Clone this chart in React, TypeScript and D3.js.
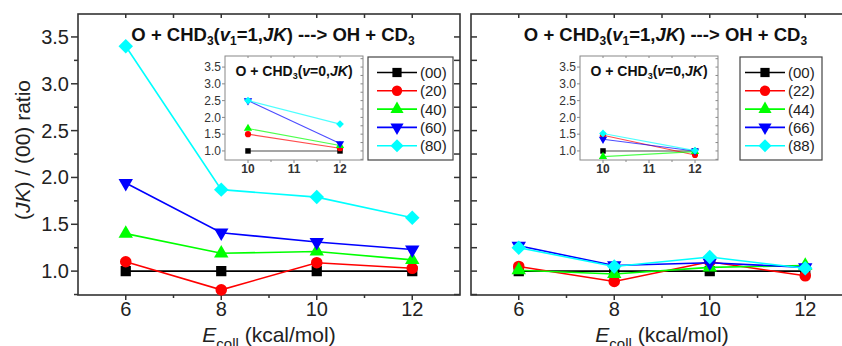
import React, { useEffect, useRef } from 'react';
import * as d3 from 'd3';

const W = 842;
const H = 346;
const FONT = '"Liberation Sans", Arial, Helvetica, sans-serif';

// collision energies (kcal/mol)
const energies = [6, 8, 10, 12];
const insetEnergies = [10, 12];

const colors = ['#000000', '#ff0000', '#00ff00', '#0000ff', '#00ffff'];
const shapes = ['square', 'circle', 'triangle', 'triangleDown', 'diamond'];

const leftLabels = ['(00)', '(20)', '(40)', '(60)', '(80)'];
const rightLabels = ['(00)', '(22)', '(44)', '(66)', '(88)'];

// left panel, v1=1
const left00 = [1.0, 1.0, 1.0, 1.0];
const left20 = [1.1, 0.8, 1.09, 1.03];
const left40 = [1.4, 1.19, 1.21, 1.12];
const left60 = [1.94, 1.41, 1.31, 1.23];
const left80 = [3.4, 1.87, 1.79, 1.57];

// right panel, v1=1
const right00 = [1.0, 1.0, 1.0, 1.0];
const right22 = [1.05, 0.89, 1.1, 0.95];
const right44 = [1.01, 0.97, 1.04, 1.06];
const right66 = [1.27, 1.06, 1.09, 1.04];
const right88 = [1.25, 1.05, 1.15, 1.03];

// insets, v=0
const insetLeft00 = [1.0, 1.0];
const insetLeft20 = [1.5, 1.08];
const insetLeft40 = [1.67, 1.16];
const insetLeft60 = [2.5, 1.22];
const insetLeft80 = [2.5, 1.8];

const insetRight00 = [1.0, 1.0];
const insetRight22 = [1.47, 0.88];
const insetRight44 = [0.83, 0.98];
const insetRight66 = [1.35, 1.0];
const insetRight88 = [1.52, 1.01];

const yTicks = [1.0, 1.5, 2.0, 2.5, 3.0, 3.5];
const xTicks = [6, 8, 10, 12];
const insetYTicks = [1.0, 1.5, 2.0, 2.5, 3.0, 3.5];
const insetXTicks = [10, 11, 12];

type Seg = { t: string; it?: boolean; sub?: boolean };

const titleMain: Seg[] = [
  { t: 'O + CHD' }, { t: '3', sub: true }, { t: '(' }, { t: 'v', it: true }, { t: '1', sub: true },
  { t: '=1,' }, { t: 'JK', it: true }, { t: ') ---> OH + CD' }, { t: '3', sub: true },
];
const titleInset: Seg[] = [
  { t: 'O + CHD' }, { t: '3', sub: true }, { t: '(' }, { t: 'v', it: true }, { t: '=0,' },
  { t: 'JK', it: true }, { t: ')' },
];

function rich(text: any, segs: Seg[], subSize: number, subDy: number) {
  let down = false;
  segs.forEach((s) => {
    const ts = text.append('tspan').text(s.t);
    if (s.it) ts.attr('font-style', 'italic');
    if (s.sub && !down) { ts.attr('dy', subDy).attr('font-size', subSize); down = true; }
    else if (s.sub) ts.attr('font-size', subSize);
    else if (down) { ts.attr('dy', -subDy); down = false; }
  });
}

function marker(g: any, shape: string, area: number, cx: number, cy: number, color: string) {
  const type = shape === 'circle' ? d3.symbolCircle
    : shape === 'triangle' || shape === 'triangleDown' ? d3.symbolTriangle : d3.symbolSquare;
  const rot = shape === 'triangleDown' ? 180 : shape === 'diamond' ? 45 : 0;
  g.append('path')
    .attr('d', d3.symbol().type(type).size(area)())
    .attr('transform', `translate(${cx},${cy}) rotate(${rot})`)
    .attr('fill', color);
}

function ticks(g: any, vals: number[], pos: (v: number) => number, fixed: number, len: number, vertical: boolean, color: string, w: number) {
  g.selectAll(null).data(vals).enter().append('line')
    .attr('x1', (d: number) => (vertical ? pos(d) : fixed))
    .attr('x2', (d: number) => (vertical ? pos(d) : fixed + len))
    .attr('y1', (d: number) => (vertical ? fixed : pos(d)))
    .attr('y2', (d: number) => (vertical ? fixed + len : pos(d)))
    .attr('stroke', color).attr('stroke-width', w);
}

function drawPanel(svg: any, o: any) {
  const x = d3.scaleLinear().domain([5, 13]).range([o.x0, o.x0 + 382]);
  const y = d3.scaleLinear().domain([0.745, 3.745]).range([295, 14]);
  const g = svg.append('g');
  const frame = '#333';
  const [bot, top] = y.range();
  const [lft, rgt] = x.range();

  // ticks
  const minorX = d3.range(6, 13, 1).filter((v) => !xTicks.includes(v));
  ticks(g, xTicks, x, bot, 5, true, frame, 1.5);
  ticks(g, minorX, x, bot, 3, true, frame, 1.5);
  ticks(g, d3.range(6, 13, 1), x, top, 4, true, frame, 1.5);
  const quarter = d3.range(0.75, 3.75, 0.25);
  if (o.yLabels) {
    ticks(g, yTicks, y, lft, -7, false, frame, 1.5);
    ticks(g, quarter.filter((v) => !yTicks.includes(v)), y, lft, -4, false, frame, 1.5);
    ticks(g, quarter, y, rgt, -6, false, frame, 1.5);
    g.selectAll(null).data(yTicks).enter().append('text')
      .attr('x', lft - 9).attr('y', (d: number) => y(d)).attr('dy', '0.35em')
      .attr('text-anchor', 'end').attr('font-size', 20).attr('fill', '#222')
      .text((d: number) => d3.format('.1f')(d));
  } else {
    ticks(g, quarter, y, lft, 6, false, frame, 1.5);
  }
  g.append('rect').attr('x', lft).attr('y', top).attr('width', rgt - lft).attr('height', bot - top)
    .attr('fill', 'none').attr('stroke', frame).attr('stroke-width', 1.6);

  g.selectAll(null).data(xTicks).enter().append('text')
    .attr('x', (d: number) => x(d)).attr('y', 315.5).attr('text-anchor', 'middle')
    .attr('font-size', 20).attr('fill', '#222').text((d: number) => d);

  // x label
  const xl = g.append('text').attr('x', (lft + rgt) / 2).attr('y', 342).attr('text-anchor', 'middle')
    .attr('font-size', 21).attr('fill', '#222');
  rich(xl, [{ t: 'E', it: true }, { t: 'coll', sub: true }, { t: ' (kcal/mol)' }], 15, 7);

  // title
  const tt = g.append('text').attr('x', (lft + Math.min(rgt, 852)) / 2 + 4).attr('y', 41)
    .attr('text-anchor', 'middle').attr('font-size', 18.5).attr('font-weight', 'bold').attr('fill', '#111');
  rich(tt, titleMain, 12, 4);

  // series
  const line = d3.line<number>().x((_, i) => x(energies[i])).y((d) => y(d));
  o.series.forEach((vals: number[], i: number) => {
    g.append('path').attr('d', line(vals)).attr('fill', 'none').attr('stroke', colors[i]).attr('stroke-width', 1.6);
    vals.forEach((v, j) => marker(g, shapes[i], shapes[i] === 'triangle' || shapes[i] === 'triangleDown' ? 90 : 105, x(energies[j]), y(v), colors[i]));
  });

  // inset
  const ix = d3.scaleLinear().domain([9.5, 12.5]).range([o.ix0, o.ix0 + 138]);
  const iy = d3.scaleLinear().domain([0.73, 3.83]).range([160, 56]);
  const ig = g.append('g');
  const ic = '#888';
  const [ib, itop] = iy.range();
  const [il, ir] = ix.range();
  ig.append('rect').attr('x', il).attr('y', itop).attr('width', ir - il).attr('height', ib - itop)
    .attr('fill', '#fff').attr('stroke', ic).attr('stroke-width', 1);
  ticks(ig, insetXTicks, ix, ib, 3, true, ic, 1);
  ticks(ig, [10.5, 11.5], ix, ib, 2, true, ic, 1);
  ticks(ig, [10, 10.5, 11, 11.5, 12], ix, itop, 2, true, ic, 1);
  ticks(ig, insetYTicks, iy, il, -3, false, ic, 1);
  ticks(ig, d3.range(0.75, 3.8, 0.25), iy, ir, -2.5, false, ic, 1);
  ig.selectAll(null).data(insetYTicks).enter().append('text')
    .attr('x', il - 4).attr('y', (d: number) => iy(d)).attr('dy', '0.35em').attr('text-anchor', 'end')
    .attr('font-size', 12).attr('fill', '#333').text((d: number) => d3.format('.1f')(d));
  ig.selectAll(null).data(insetXTicks).enter().append('text')
    .attr('x', (d: number) => ix(d)).attr('y', 173).attr('text-anchor', 'middle')
    .attr('font-size', 12).attr('font-weight', 'bold').attr('fill', '#333').text((d: number) => d);
  const it = ig.append('text').attr('x', (il + ir) / 2).attr('y', 76).attr('text-anchor', 'middle')
    .attr('font-size', 14).attr('font-weight', 'bold').attr('fill', '#111');
  rich(it, titleInset, 9, 3);
  const iline = d3.line<number>().x((_, i) => ix(insetEnergies[i])).y((d) => iy(d));
  o.inset.forEach((vals: number[], i: number) => {
    ig.append('path').attr('d', iline(vals)).attr('fill', 'none').attr('stroke', colors[i])
      .attr('stroke-width', 1.1).attr('stroke-opacity', 0.7);
    vals.forEach((v, j) => marker(ig, shapes[i], 30, ix(insetEnergies[j]), iy(v), colors[i]));
  });

  // legend
  const lg = g.append('g');
  lg.append('rect').attr('x', o.lx).attr('y', 57).attr('width', o.lw).attr('height', 103)
    .attr('fill', '#fff').attr('stroke', '#444').attr('stroke-width', 1.2);
  o.labels.forEach((lab: string, i: number) => {
    const ry = 72.5 + i * 18.3;
    const lx = o.lx + o.lpad;
    lg.append('line').attr('x1', lx).attr('x2', lx + 40).attr('y1', ry).attr('y2', ry)
      .attr('stroke', colors[i]).attr('stroke-width', 1.6);
    marker(lg, shapes[i], shapes[i] === 'triangle' || shapes[i] === 'triangleDown' ? 75 : 85, lx + 20, ry, colors[i]);
    lg.append('text').attr('x', lx + 43).attr('y', ry).attr('dy', '0.36em').attr('font-size', 15)
      .attr('fill', '#222').text(lab);
  });
}

const App = () => {
  const svgRef = useRef<SVGSVGElement>(null);

  useEffect(() => {
    const svg = d3.select(svgRef.current);
    svg.selectAll('*').remove();
    svg.attr('font-family', FONT);

    drawPanel(svg, {
      x0: 78, yLabels: true,
      series: [left00, left20, left40, left60, left80],
      inset: [insetLeft00, insetLeft20, insetLeft40, insetLeft60, insetLeft80],
      ix0: 225, labels: leftLabels, lx: 368, lw: 85, lpad: 9,
    });
    drawPanel(svg, {
      x0: 471, yLabels: false,
      series: [right00, right22, right44, right66, right88],
      inset: [insetRight00, insetRight22, insetRight44, insetRight66, insetRight88],
      ix0: 580, labels: rightLabels, lx: 740, lw: 82, lpad: 5,
    });

    // y-axis title
    const yl = svg.append('text').attr('transform', 'translate(30,150) rotate(-90)')
      .attr('text-anchor', 'middle').attr('font-size', 21).attr('fill', '#222');
    rich(yl, [{ t: '(' }, { t: 'JK', it: true }, { t: ') / (00) ratio' }], 21, 0);
  }, []);

  return (
    <div style={{ position: 'absolute', left: 0, top: 0, width: W, height: H, overflow: 'hidden', background: '#fff' }}>
      <svg ref={svgRef} width={W} height={H} style={{ display: 'block' }} />
    </div>
  );
};

export default App;
